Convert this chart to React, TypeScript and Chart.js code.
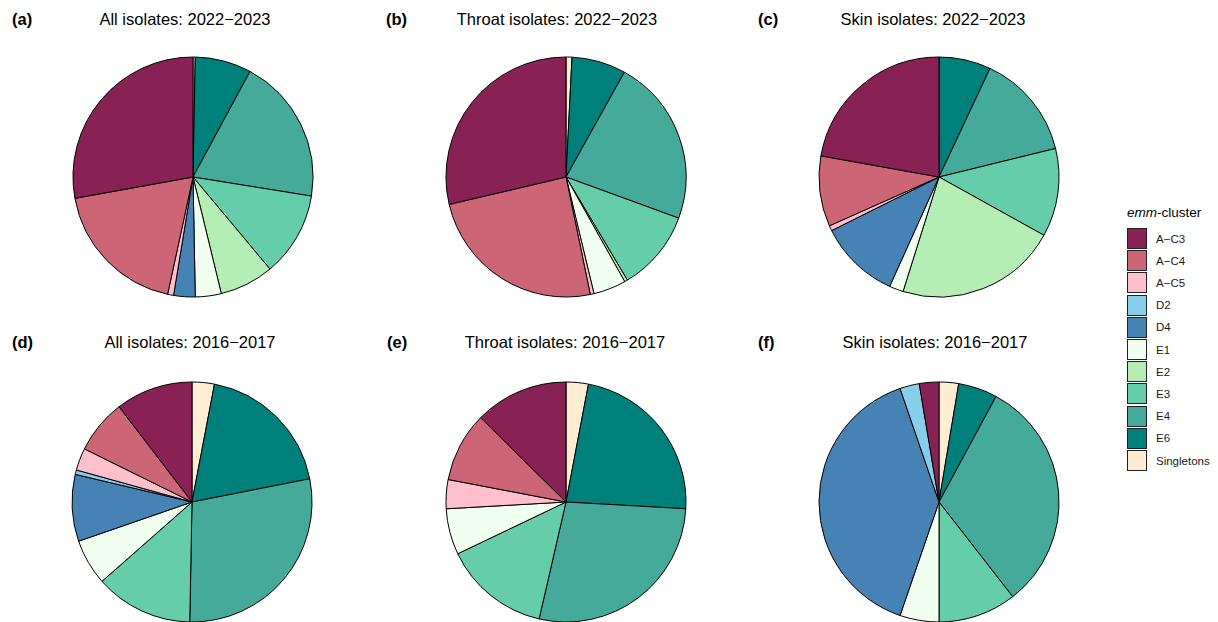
import React, { useEffect, useRef } from "react";
import { Chart, registerables } from "chart.js";

Chart.register(...registerables);

// Slice order, clockwise from 12 o'clock
const clusters = ["Singletons", "E6", "E4", "E3", "E2", "E1", "D4", "D2", "A\u2212C5", "A\u2212C4", "A\u2212C3"];
const clusterColors = ["#FFEDD3", "#00807A", "#45AA99", "#66CDAA", "#B4EEB4", "#F0FFF0", "#4682B4", "#87CEEB", "#FFC0CB", "#CC6677", "#882255"];

// Legend order (top to bottom)
const legendOrder = ["A\u2212C3", "A\u2212C4", "A\u2212C5", "D2", "D4", "E1", "E2", "E3", "E4", "E6", "Singletons"];

// Shares (%), same order as clusters
const allIsolates2022 = [0.3, 7.6, 19.7, 11.4, 7.3, 3.5, 2.9, 0, 0.8, 18.8, 27.9];
const throatIsolates2022 = [0.8, 7.3, 22.5, 10.9, 0.4, 4.4, 0, 0, 0.5, 24.6, 28.7];
const skinIsolates2022 = [0, 7.0, 14.2, 11.9, 21.8, 1.9, 10.9, 0, 0.7, 9.5, 22.2];
const allIsolates2016 = [3.0, 18.9, 28.4, 13.2, 0, 6.2, 9.0, 0.6, 3.0, 7.3, 10.4];
const throatIsolates2016 = [3.0, 22.9, 27.7, 14.3, 0, 6.2, 0, 0, 3.9, 9.4, 12.6];
const skinIsolates2016 = [1, 2, 12, 4, 0, 2, 15, 1, 0, 0, 1];

const panelTags = ["(a)", "(b)", "(c)", "(d)", "(e)", "(f)"];
const panelTitles = [
  "All isolates: 2022\u22122023",
  "Throat isolates: 2022\u22122023",
  "Skin isolates: 2022\u22122023",
  "All isolates: 2016\u22122017",
  "Throat isolates: 2016\u22122017",
  "Skin isolates: 2016\u22122017",
];
const panelData = [allIsolates2022, throatIsolates2022, skinIsolates2022, allIsolates2016, throatIsolates2016, skinIsolates2016];

const FONT = "'Liberation Sans', Arial, Helvetica, sans-serif";

// layout
const centers = [
  [192.5, 177],
  [566, 177],
  [939.3, 177],
  [191.7, 501.5],
  [566, 502.3],
  [939.4, 501.5],
];
const tagX = [12, 386, 758, 12, 387, 758];
const titleCX = [185, 557, 933, 190, 565, 935];
const rowTop = [11, 11, 11, 333.5, 333.5, 333.5];
const CANVAS = 250;

function Pie({ data, cx, cy }: { data: number[]; cx: number; cy: number }) {
  const ref = useRef<HTMLCanvasElement | null>(null);
  useEffect(() => {
    if (!ref.current) return;
    const chart = new Chart(ref.current, {
      type: "pie",
      data: {
        labels: clusters,
        datasets: [
          {
            data: data,
            backgroundColor: clusterColors,
            borderColor: "#000000",
            borderWidth: 1,
          },
        ],
      },
      options: {
        responsive: false,
        animation: false,
        devicePixelRatio: 1,
        radius: 120,
        layout: { padding: 0 },
        plugins: {
          legend: { display: false },
          tooltip: { enabled: false },
          title: { display: false },
        },
      } as any,
    });
    return () => chart.destroy();
  }, [data]);
  return (
    <canvas
      ref={ref}
      width={CANVAS}
      height={CANVAS}
      style={{ position: "absolute", left: cx - CANVAS / 2, top: cy - CANVAS / 2, width: CANVAS, height: CANVAS }}
    />
  );
}

export default function App() {
  return (
    <div
      style={{
        position: "absolute",
        left: 0,
        top: 0,
        width: 1218,
        height: 622,
        overflow: "hidden",
        background: "#ffffff",
        fontFamily: FONT,
      }}
    >
      {panelData.map((d, i) => (
        <Pie key={"p" + i} data={d} cx={centers[i][0]} cy={centers[i][1]} />
      ))}
      {panelTags.map((t, i) => (
        <div
          key={"t" + i}
          style={{
            position: "absolute",
            left: tagX[i],
            top: rowTop[i],
            fontSize: 16.5,
            lineHeight: "16.5px",
            fontWeight: "bold",
            color: "#000",
            whiteSpace: "nowrap",
          }}
        >
          {t}
        </div>
      ))}
      {panelTitles.map((t, i) => (
        <div
          key={"h" + i}
          style={{
            position: "absolute",
            left: titleCX[i] - 200,
            width: 400,
            textAlign: "center",
            top: rowTop[i],
            fontSize: 16.5,
            lineHeight: "16.5px",
            color: "#000",
            whiteSpace: "nowrap",
          }}
        >
          {t}
        </div>
      ))}
      <div style={{ position: "absolute", left: 1127, top: 205, fontSize: 13.5, lineHeight: "16px", color: "#000", whiteSpace: "nowrap" }}>
        <i>emm</i>-cluster
      </div>
      {legendOrder.map((name, i) => {
        const col = clusterColors[clusters.indexOf(name)];
        return (
          <div key={"l" + i} style={{ position: "absolute", left: 1127, top: 228 + i * 22.2, height: 21, display: "flex", alignItems: "center" }}>
            <div
              style={{
                width: 18,
                height: 19,
                background: col,
                border: "1px solid #222",
                boxSizing: "content-box",
              }}
            />
            <div style={{ marginLeft: 9, fontSize: 11.5, color: "#1a1a1a", whiteSpace: "nowrap" }}>{name}</div>
          </div>
        );
      })}
    </div>
  );
}
